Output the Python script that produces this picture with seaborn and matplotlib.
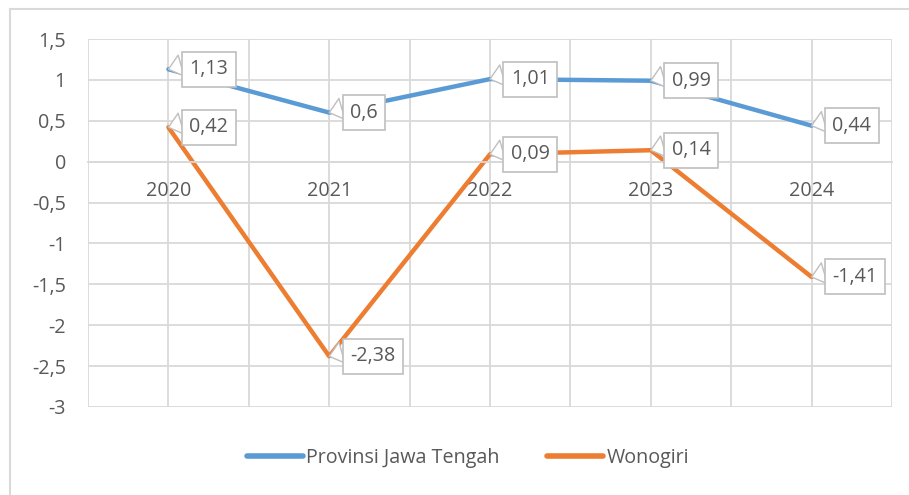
import matplotlib
matplotlib.use("Agg")
import matplotlib.pyplot as plt
import seaborn as sns
import pandas as pd
from matplotlib.lines import Line2D
from matplotlib.ticker import FixedLocator, FuncFormatter

years = ["2020", "2021", "2022", "2023", "2024"]
jateng = [1.13, 0.60, 1.01, 0.99, 0.44]
wonogiri = [0.42, -2.38, 0.09, 0.14, -1.41]
series_names = ["Provinsi Jawa Tengah", "Wonogiri"]
y_ticks = [1.5, 1, 0.5, 0, -0.5, -1, -1.5, -2, -2.5, -3]

df = pd.DataFrame({
    "Tahun": years * 2,
    "Nilai": jateng + wonogiri,
    "Seri": [series_names[0]] * len(years) + [series_names[1]] * len(years),
})
df["pos"] = list(range(len(years))) * 2

sns.set_theme(style="white")
plt.rcParams["font.family"] = ["Open Sans", "DejaVu Sans"]

fs = 14.2
text_color = "#595959"
grid_color = "#D9D9D9"
colors = {series_names[0]: "#5B9BD5", series_names[1]: "#ED7D31"}

fig = plt.figure(figsize=(9.09, 4.95), dpi=100)
ax = fig.add_axes([88 / 909, 1 - 407 / 495, (892 - 88) / 909, (407 - 39) / 495])

sns.lineplot(data=df, x="pos", y="Nilai", hue="Seri", palette=colors,
             linewidth=3.2, ax=ax, legend=False, sort=False)
for line in ax.get_lines():
    line.set_solid_capstyle("round")
    line.set_solid_joinstyle("round")

ax.set_xlim(-0.5, len(years) - 0.5)
ax.set_ylim(-3, 1.5)
ax.set_xlabel("")
ax.set_ylabel("")

ax.xaxis.set_major_locator(FixedLocator(range(len(years))))
ax.xaxis.set_minor_locator(FixedLocator([i - 0.5 for i in range(len(years) + 1)]))
ax.set_xticklabels(years)
ax.yaxis.set_major_locator(FixedLocator(y_ticks))
ax.yaxis.set_major_formatter(FuncFormatter(lambda v, p: f"{v:g}".replace(".", ",")))

ax.grid(True, which="both", color=grid_color, linewidth=1.3)
ax.set_axisbelow(True)
for s in ax.spines.values():
    s.set_visible(False)
ax.spines["bottom"].set_visible(True)
ax.spines["bottom"].set_position(("data", 0))
ax.spines["bottom"].set_color(grid_color)
ax.spines["bottom"].set_linewidth(1.3)

ax.tick_params(axis="x", which="both", length=0, pad=14, labelsize=fs, labelcolor=text_color)
ax.tick_params(axis="y", length=0, pad=16, labelsize=fs, labelcolor=text_color)

# callout data labels
for name, vals in zip(series_names, [jateng, wonogiri]):
    for i, v in enumerate(vals):
        ax.annotate(
            f"{v:g}".replace(".", ","), xy=(i, v), xytext=(15, 0),
            textcoords="offset points", ha="left", va="center",
            fontsize=fs, color=text_color, zorder=5,
            bbox=dict(boxstyle="square,pad=0.38", fc="white", ec="#BFBFBF", lw=1.2),
            arrowprops=dict(arrowstyle="wedge,tail_width=1.1,shrink_factor=0.5",
                            fc="white", ec="#BFBFBF", lw=1.0,
                            relpos=(0.0, 0.8), shrinkA=0, shrinkB=0),
        )

handles = [Line2D([0], [0], color=colors[n], lw=4, solid_capstyle="round") for n in series_names]
leg = fig.legend(handles, series_names, loc="center", bbox_to_anchor=(0.515, 1 - 458 / 495),
                 ncol=2, frameon=False, fontsize=fs, handlelength=2.8,
                 handletextpad=0.2, columnspacing=2.4)
for t in leg.get_texts():
    t.set_color(text_color)

# chart area border (top and left edges visible)
fig.add_artist(Line2D([10 / 909, 1.0], [1 - 9 / 495, 1 - 9 / 495],
                      transform=fig.transFigure, color=grid_color, lw=1.5))
fig.add_artist(Line2D([10 / 909, 10 / 909], [0.0, 1 - 9 / 495],
                      transform=fig.transFigure, color=grid_color, lw=1.5))

fig.savefig("out.png", dpi=100)
